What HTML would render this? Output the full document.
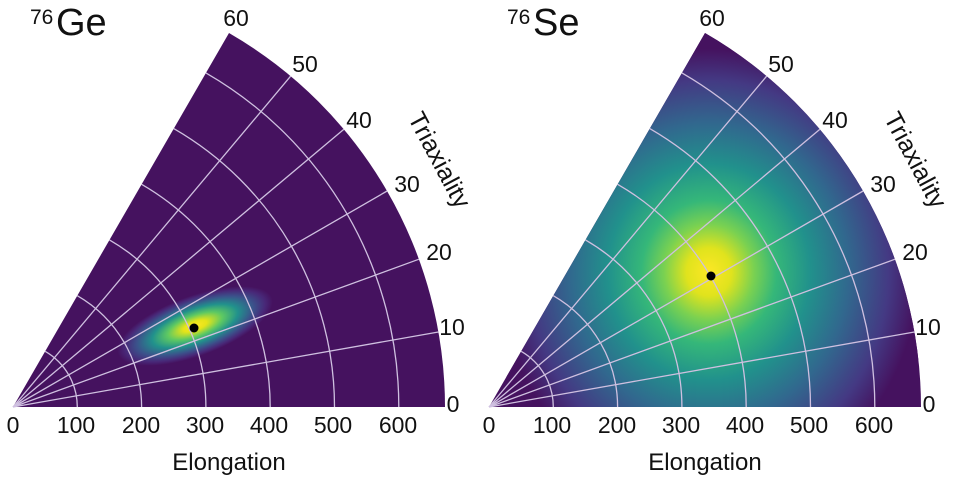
<!DOCTYPE html>
<html><head><meta charset="utf-8"><style>
html,body{margin:0;background:#fff;overflow:hidden;width:956px;height:480px;}
svg{display:block;font-family:"Liberation Sans",sans-serif;}
</style></head><body>
<svg width="956" height="480" viewBox="0 0 956 480">
<defs>
<radialGradient id="gL" cx="0.5" cy="0.5" r="0.5">
<stop offset="0" stop-color="#fde725"/>
<stop offset="0.15" stop-color="#e5e419"/>
<stop offset="0.35" stop-color="#5ec962"/>
<stop offset="0.55" stop-color="#21918c"/>
<stop offset="0.75" stop-color="#3b528b"/>
<stop offset="0.9" stop-color="#482878"/>
<stop offset="1" stop-color="#45125f"/>
</radialGradient>
<radialGradient id="gR" cx="0.5" cy="0.5" r="0.5">
<stop offset="0" stop-color="#fde725"/>
<stop offset="0.1" stop-color="#e0e31d"/>
<stop offset="0.2" stop-color="#7ad151"/>
<stop offset="0.3" stop-color="#35b779"/>
<stop offset="0.45" stop-color="#21918c"/>
<stop offset="0.62" stop-color="#31688e"/>
<stop offset="0.8" stop-color="#443983"/>
<stop offset="0.93" stop-color="#45125f"/>
<stop offset="1" stop-color="#45125f"/>
</radialGradient>
<clipPath id="cL"><path d="M13,407 L445,407 A432,432 0 0 0 229,33 Z"/></clipPath>
<clipPath id="cR"><path d="M489,407 L921,407 A432,432 0 0 0 705,33 Z"/></clipPath>
<g id="grid" stroke="#cfc0e0" stroke-width="1.3" fill="none">
<path d="M77.3,407 A64.3,64.3 0 0 0 45.15,351.31"/>
<path d="M141.6,407 A128.6,128.6 0 0 0 77.3,295.63"/>
<path d="M205.9,407 A192.9,192.9 0 0 0 109.45,239.94"/>
<path d="M270.2,407 A257.2,257.2 0 0 0 141.6,184.26"/>
<path d="M334.5,407 A321.5,321.5 0 0 0 173.75,128.57"/>
<path d="M398.8,407 A385.8,385.8 0 0 0 205.9,72.89"/>
<line x1="13" y1="407" x2="438.4" y2="332"/>
<line x1="13" y1="407" x2="419" y2="259.2"/>
<line x1="13" y1="407" x2="387.1" y2="191"/>
<line x1="13" y1="407" x2="343.9" y2="129.3"/>
<line x1="13" y1="407" x2="290.7" y2="76.1"/>
</g>
</defs>
<path d="M13,407 L445,407 A432,432 0 0 0 229,33 Z" fill="#45125f"/>
<g clip-path="url(#cL)">
<ellipse cx="195" cy="326" rx="82" ry="30" fill="url(#gL)" transform="rotate(-20 195 326)"/>
</g>
<use href="#grid"/>
<circle cx="194" cy="328" r="4.5" fill="#000"/>

<path d="M489,407 L921,407 A432,432 0 0 0 705,33 Z" fill="#45125f"/>
<g clip-path="url(#cR)">
<ellipse cx="709" cy="272" rx="225" ry="240" fill="url(#gR)"/>
</g>
<use href="#grid" transform="translate(476,0)"/>
<circle cx="711" cy="276" r="4.5" fill="#000"/>

<g fill="#111">
<text x="30" y="24" font-size="21">76</text><text x="56" y="35" font-size="38">Ge</text>
<text x="507" y="24" font-size="21">76</text><text x="533" y="35" font-size="38">Se</text>
<g text-anchor="middle" font-size="23">
<text x="13" y="433">0</text><text x="76" y="433">100</text><text x="141" y="433">200</text><text x="205" y="433">300</text><text x="269" y="433">400</text><text x="333" y="433">500</text><text x="398" y="433">600</text>
<text x="489" y="433">0</text><text x="552" y="433">100</text><text x="617" y="433">200</text><text x="681" y="433">300</text><text x="745" y="433">400</text><text x="809" y="433">500</text><text x="874" y="433">600</text>
<text x="229" y="470" font-size="24">Elongation</text><text x="705" y="470" font-size="24">Elongation</text>
<text x="236" y="26">60</text><text x="305" y="72">50</text><text x="359" y="128">40</text><text x="407" y="192">30</text><text x="439" y="260">20</text><text x="452" y="335">10</text><text x="453" y="412">0</text>
<text x="712" y="26">60</text><text x="781" y="72">50</text><text x="835" y="128">40</text><text x="883" y="192">30</text><text x="915" y="260">20</text><text x="928" y="335">10</text><text x="929" y="412">0</text>
<text transform="translate(432,164) rotate(62)" font-size="25">Triaxiality</text>
<text transform="translate(908,164) rotate(62)" font-size="25">Triaxiality</text>
</g></g>
</svg>
</body></html>
